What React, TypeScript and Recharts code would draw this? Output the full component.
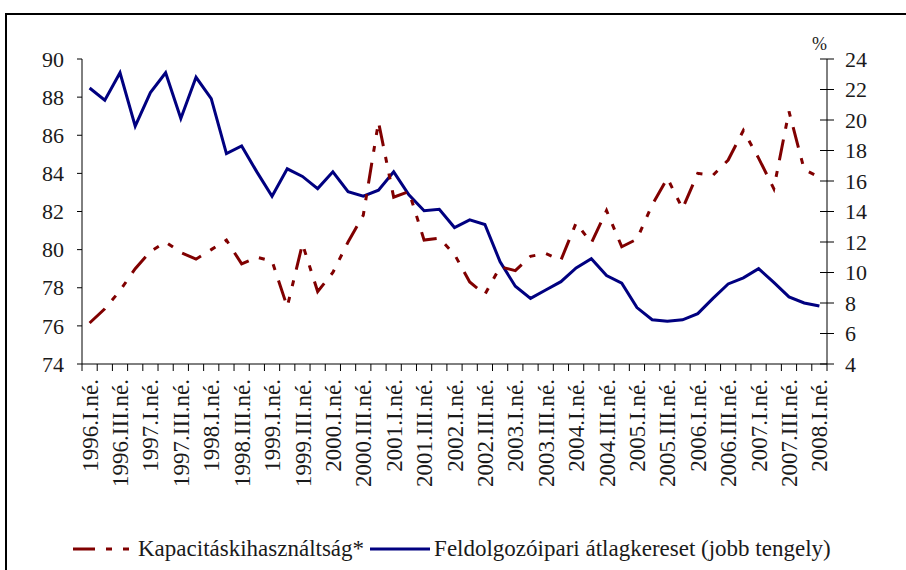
import React from 'react';
import { LineChart, Line, XAxis, YAxis } from 'recharts';

const quarterLabels: string[] = [
  '1996.I.né.', '1996.II.né.', '1996.III.né.', '1996.IV.né.',
  '1997.I.né.', '1997.II.né.', '1997.III.né.', '1997.IV.né.',
  '1998.I.né.', '1998.II.né.', '1998.III.né.', '1998.IV.né.',
  '1999.I.né.', '1999.II.né.', '1999.III.né.', '1999.IV.né.',
  '2000.I.né.', '2000.II.né.', '2000.III.né.', '2000.IV.né.',
  '2001.I.né.', '2001.II.né.', '2001.III.né.', '2001.IV.né.',
  '2002.I.né.', '2002.II.né.', '2002.III.né.', '2002.IV.né.',
  '2003.I.né.', '2003.II.né.', '2003.III.né.', '2003.IV.né.',
  '2004.I.né.', '2004.II.né.', '2004.III.né.', '2004.IV.né.',
  '2005.I.né.', '2005.II.né.', '2005.III.né.', '2005.IV.né.',
  '2006.I.né.', '2006.II.né.', '2006.III.né.', '2006.IV.né.',
  '2007.I.né.', '2007.II.né.', '2007.III.né.', '2007.IV.né.',
  '2008.I.né.',
];

// Kapacitáskihasználtság* (left axis)
const capacityUtilization: number[] = [
  76.15, 76.9, 77.85, 79.0, 79.9, 80.4, 79.85, 79.5,
  80.0, 80.5, 79.25, 79.6, 79.4, 77.0, 80.3, 77.8,
  78.8, 80.4, 81.8, 86.7, 82.75, 83.05, 80.5, 80.6,
  79.75, 78.3, 77.65, 79.1, 78.9, 79.65, 79.8, 79.45,
  81.4, 80.35, 82.05, 80.15, 80.55, 82.35, 83.75, 82.15,
  84.0, 83.9, 84.7, 86.25, 84.8, 83.2, 87.25, 84.2,
  83.8,
];

// Feldolgozóipari átlagkereset (right axis, %)
const avgEarnings: number[] = [
  22.1, 21.3, 23.1, 19.6, 21.8, 23.1, 20.1, 22.8,
  21.4, 17.8, 18.3, 16.6, 15.0, 16.8, 16.3, 15.5,
  16.6, 15.3, 15.0, 15.4, 16.6, 15.1, 14.05, 14.15,
  12.95, 13.45, 13.15, 10.7, 9.1, 8.3, 8.85, 9.4,
  10.3, 10.9, 9.8, 9.3, 7.7, 6.9, 6.8, 6.9,
  7.3, 8.3, 9.25, 9.65, 10.25, 9.35, 8.4, 8.0,
  7.8,
];

const leftTicks: number[] = [74, 76, 78, 80, 82, 84, 86, 88, 90];
const rightTicks: number[] = [4, 6, 8, 10, 12, 14, 16, 18, 20, 22, 24];
const labelIndexes: number[] = quarterLabels.map((_, i) => i).filter((i) => i % 2 === 0);
const boundaryTicks: number[] = [...quarterLabels.map((_, i) => i - 0.5), quarterLabels.length - 0.5];
const xTicks: number[] = [...boundaryTicks, ...labelIndexes].sort((a, b) => a - b);

const seriesNames = {
  cap: 'Kapacitáskihasználtság*',
  earn: 'Feldolgozóipari átlagkereset (jobb tengely)',
};

const data = quarterLabels.map((q, i) => ({
  i,
  q,
  cap: capacityUtilization[i],
  earn: avgEarnings[i],
}));

const FONT = 'Liberation Serif, DejaVu Serif, serif';
const TEXT = '#1a1a1a';
const RED = '#800000';
const BLUE = '#000080';
const RED_DASH = '21 11 6 11 6 11';

const XTick = (props: any) => {
  const { x, y, payload } = props;
  const v = payload.value as number;
  if (Math.abs(v - Math.round(v)) > 0.01) {
    return <line x1={x} x2={x} y1={y} y2={y + 7} stroke="#000" strokeWidth={1} />;
  }
  return (
    <text
      transform={`translate(${x},${y + 15}) rotate(-90)`}
      textAnchor="end"
      dy="0.35em"
      style={{ fontFamily: FONT, fontSize: 23 }}
      fill={TEXT}
    >
      {quarterLabels[Math.round(v)]}
    </text>
  );
};

const LeftTick = (props: any) => {
  const { x, y, payload } = props;
  return (
    <g>
      <line x1={x - 5} x2={x} y1={y} y2={y} stroke="#000" strokeWidth={1} />
      <text x={x - 18} y={y} dy="0.35em" textAnchor="end" style={{ fontFamily: FONT, fontSize: 22 }} fill={TEXT}>
        {payload.value}
      </text>
    </g>
  );
};

const RightTick = (props: any) => {
  const { x, y, payload } = props;
  return (
    <g>
      <line x1={x - 7} x2={x + 7} y1={y} y2={y} stroke="#000" strokeWidth={1} />
      <text x={x + 18} y={y} dy="0.35em" textAnchor="start" style={{ fontFamily: FONT, fontSize: 22 }} fill={TEXT}>
        {payload.value}
      </text>
    </g>
  );
};

export default function App() {
  return (
    <div style={{ position: 'absolute', left: 0, top: 0, width: 906, height: 570, background: '#fff', overflow: 'hidden', fontFamily: FONT }}>
      <div
        style={{
          position: 'absolute',
          left: 5,
          top: 13,
          width: 1000,
          height: 1000,
          borderLeft: '2px solid #000',
          borderTop: '2px solid #000',
          boxSizing: 'border-box',
        }}
      />
      <div style={{ position: 'absolute', left: 0, top: 0 }}>
        <LineChart width={906} height={570} data={data} margin={{ top: 59, right: 19, bottom: 0, left: 22 }}>
          <XAxis
            xAxisId="x"
            type="number"
            dataKey="i"
            domain={[-0.5, quarterLabels.length - 0.5]}
            ticks={xTicks}
            interval={0}
            tick={<XTick />}
            tickLine={false}
            tickSize={0}
            tickMargin={0}
            height={206}
            axisLine={{ stroke: '#000', strokeWidth: 1 }}
          />
          <YAxis
            yAxisId="left"
            orientation="left"
            domain={[74, 90]}
            ticks={leftTicks}
            interval={0}
            width={60}
            tick={<LeftTick />}
            tickLine={false}
            tickSize={0}
            tickMargin={0}
            axisLine={{ stroke: '#000', strokeWidth: 1 }}
          />
          <YAxis
            yAxisId="right"
            orientation="right"
            domain={[4, 24]}
            ticks={rightTicks}
            interval={0}
            width={60}
            tick={<RightTick />}
            tickLine={false}
            tickSize={0}
            tickMargin={0}
            axisLine={{ stroke: '#000', strokeWidth: 1 }}
          />
          <Line
            xAxisId="x"
            yAxisId="right"
            dataKey="earn"
            name={seriesNames.earn}
            type="linear"
            stroke={BLUE}
            strokeWidth={3}
            dot={false}
            isAnimationActive={false}
          />
          <Line
            xAxisId="x"
            yAxisId="left"
            dataKey="cap"
            name={seriesNames.cap}
            type="linear"
            stroke={RED}
            strokeWidth={3}
            strokeDasharray={RED_DASH}
            dot={false}
            isAnimationActive={false}
          />
        </LineChart>
      </div>
      <div style={{ position: 'absolute', left: 812, top: 34, fontFamily: FONT, fontSize: 18, color: TEXT, lineHeight: '20px' }}>
        %
      </div>
      <div
        style={{
          position: 'absolute',
          left: 73,
          top: 536,
          height: 26,
          display: 'flex',
          alignItems: 'center',
          fontFamily: FONT,
          fontSize: 23,
          color: TEXT,
          whiteSpace: 'nowrap',
        }}
      >
        <svg width={57} height={10} style={{ display: 'block' }}>
          <line x1={0} x2={57} y1={5} y2={5} stroke={RED} strokeWidth={3} strokeDasharray="22 11 6 11 6 11" />
        </svg>
        <span style={{ marginLeft: 8 }}>{seriesNames.cap}</span>
        <svg width={60} height={10} style={{ display: 'block', marginLeft: 6 }}>
          <line x1={0} x2={60} y1={5} y2={5} stroke={BLUE} strokeWidth={3} />
        </svg>
        <span style={{ marginLeft: 4 }}>{seriesNames.earn}</span>
      </div>
    </div>
  );
}
